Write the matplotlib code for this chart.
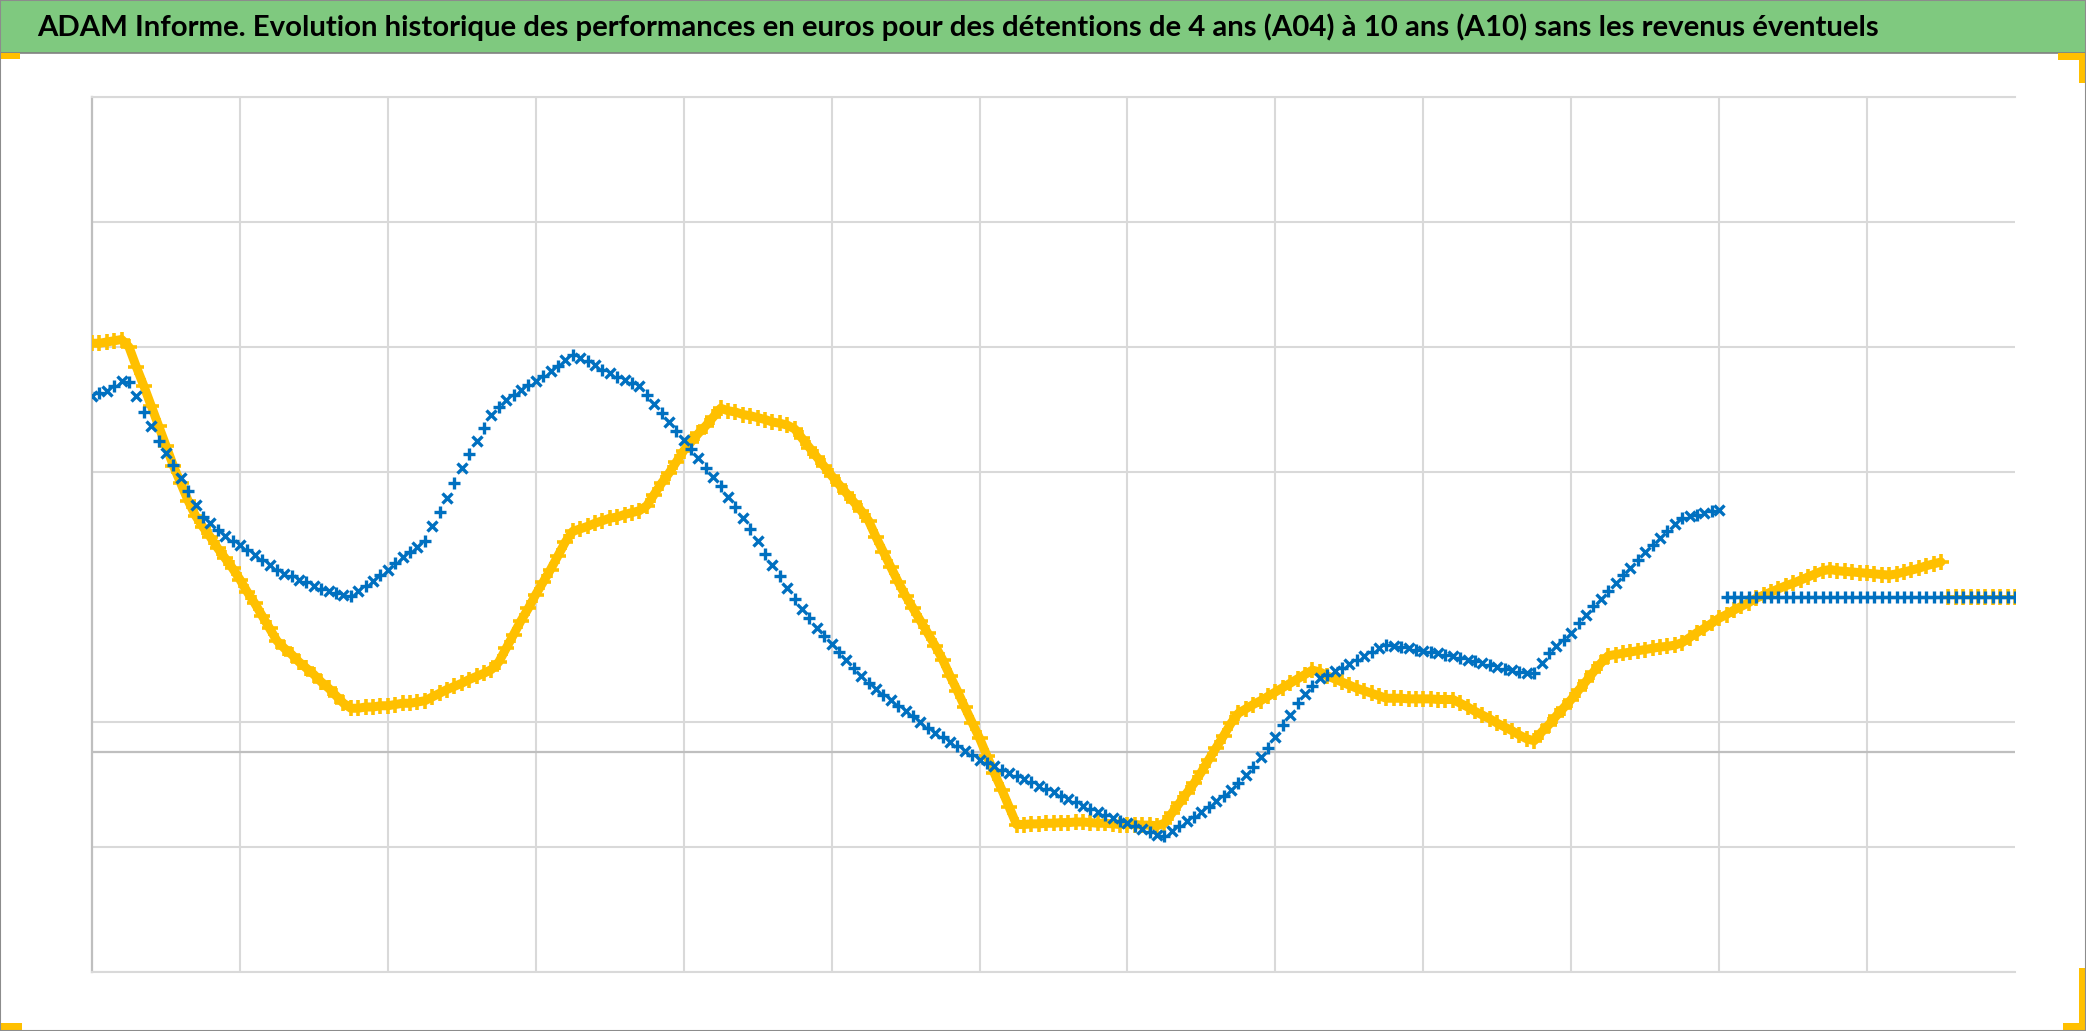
import matplotlib
matplotlib.use('Agg')
import matplotlib.pyplot as plt
import numpy as np
from matplotlib import font_manager
from matplotlib.patches import Rectangle

title = ("ADAM Informe. Evolution historique des performances en euros pour des "
         "détentions de 4 ans (A04) à 10 ans (A10) sans les revenus éventuels")

# one value every 0.05 grid step along the time axis
step = 0.05

# yellow series, start -> last known value
yellow = [
    30.3, 30.3, 30.4, 30.5, 30.6, 30.0, 28.4, 26.9, 25.3, 23.7,
    22.1, 20.5, 19.1, 17.7, 16.5, 15.6, 14.8, 13.9, 13.1, 12.3,
    11.4, 10.4, 9.5, 8.5, 7.5, 6.5, 5.9, 5.4, 4.8, 4.3,
    3.8, 3.2, 2.7, 2.1, 1.5, 1.1, 1.1, 1.2, 1.2, 1.3,
    1.3, 1.4, 1.5, 1.5, 1.6, 1.7, 2.0, 2.3, 2.6, 2.85,
    3.1, 3.4, 3.65, 3.9, 4.2, 4.8, 5.9, 7.0, 8.1, 9.1,
    10.2, 11.2, 12.2, 13.3, 14.4, 15.25, 15.45, 15.65, 15.9, 16.1,
    16.3, 16.4, 16.6, 16.75, 16.9, 17.3, 18.2, 19.1, 19.9, 20.8,
    21.7, 22.4, 23.1, 23.7, 24.4, 25.1, 24.9, 24.8, 24.6, 24.5,
    24.35, 24.2, 24.0, 23.9, 23.75, 23.45, 22.7, 21.95, 21.2, 20.45,
    19.7, 19.0, 18.3, 17.6, 16.9, 16.1, 14.8, 13.6, 12.4, 11.2,
    10.1, 9.1, 8.1, 7.1, 6.1, 5.0, 3.7, 2.5, 1.2, -0.05,
    -1.3, -2.7, -4.1, -5.4, -6.8, -8.2, -8.2, -8.15, -8.15, -8.1,
    -8.1, -8.05, -8.05, -8.0, -8.0, -8.05, -8.1, -8.1, -8.15, -8.2,
    -8.2, -8.2, -8.25, -8.25, -8.3, -8.1, -7.3, -6.5, -5.7, -4.9,
    -4.0, -3.0, -2.05, -1.1, -0.1, 0.7, 1.05, 1.4, 1.7, 2.05,
    2.4, 2.75, 3.1, 3.45, 3.8, 4.15, 4.0, 3.7, 3.45, 3.2,
    2.95, 2.7, 2.5, 2.3, 2.1, 1.9, 1.9, 1.9, 1.85, 1.85,
    1.85, 1.85, 1.8, 1.8, 1.8, 1.5, 1.2, 0.85, 0.55, 0.25,
    -0.1, -0.4, -0.7, -1.05, -1.35, -1.5, -0.8, -0.2, 0.5, 1.15,
    1.8, 2.55, 3.25, 4.0, 4.7, 5.3, 5.4, 5.5, 5.6, 5.7,
    5.8, 5.9, 6.0, 6.05, 6.15, 6.35, 6.75, 7.15, 7.5, 7.9,
    8.3, 8.6, 8.95, 9.25, 9.55, 9.9, 10.15, 10.4, 10.65, 10.9,
    11.1, 11.35, 11.6, 11.85, 12.1, 12.2, 12.1, 12.05, 12.0, 11.95,
    11.9, 11.85, 11.8, 11.75, 11.85, 12.0, 12.15, 12.3, 12.5, 12.65,
    12.8,
]
yellow_tail = [10.0] * 10

# blue series
blue = [
    26.1, 26.3, 26.5, 26.9, 27.3, 27.2, 26.05, 24.8, 23.7, 22.5,
    21.55, 20.6, 19.5, 18.5, 17.4, 16.4, 15.9, 15.35, 14.9, 14.5,
    14.15, 13.75, 13.35, 12.95, 12.55, 12.2, 11.85, 11.65, 11.4, 11.2,
    10.9, 10.65, 10.45, 10.3, 10.15, 10.1, 10.5, 10.9, 11.3, 11.75,
    12.2, 12.7, 13.2, 13.6, 14.0, 14.5, 15.7, 16.8, 17.9, 19.1,
    20.3, 21.45, 22.5, 23.55, 24.6, 25.2, 25.8, 26.2, 26.6, 26.95,
    27.3, 27.7, 28.1, 28.5, 29.0, 29.35, 29.1, 28.85, 28.55, 28.2,
    27.9, 27.6, 27.35, 27.1, 26.85, 26.2, 25.45, 24.7, 24.0, 23.3,
    22.6, 21.85, 21.1, 20.35, 19.6, 18.9, 18.0, 17.2, 16.35, 15.45,
    14.45, 13.45, 12.55, 11.65, 10.75, 9.85, 9.05, 8.3, 7.5, 6.85,
    6.25, 5.6, 5.0, 4.35, 3.7, 3.1, 2.65, 2.2, 1.75, 1.3,
    0.9, 0.45, 0.0, -0.45, -0.85, -1.2, -1.6, -1.95, -2.3, -2.65,
    -3.0, -3.25, -3.5, -3.8, -4.05, -4.3, -4.55, -4.8, -5.1, -5.35,
    -5.6, -5.9, -6.15, -6.4, -6.7, -6.95, -7.2, -7.4, -7.65, -7.9,
    -8.1, -8.35, -8.55, -8.8, -9.0, -9.15, -8.75, -8.35, -7.95, -7.6,
    -7.2, -6.8, -6.35, -5.9, -5.45, -4.85, -4.25, -3.6, -2.8, -2.05,
    -1.2, -0.2, 0.6, 1.5, 2.25, 2.85, 3.5, 3.8, 4.05, 4.35,
    4.65, 4.95, 5.3, 5.6, 5.95, 6.2, 6.1, 6.0, 5.9, 5.8,
    5.7, 5.6, 5.5, 5.35, 5.25, 5.15, 5.0, 4.85, 4.7, 4.55,
    4.4, 4.25, 4.15, 4.0, 3.9, 3.95, 4.7, 5.5, 6.1, 6.6,
    7.15, 7.9, 8.6, 9.25, 9.85, 10.5, 11.1, 11.75, 12.35, 13.0,
    13.6, 14.2, 14.75, 15.3, 15.85, 16.35, 16.5, 16.6, 16.7, 16.85,
    17.0,
]
blue_tail = [10.0] * 40

x_max = 13
grid_y = [-20, -10, 0, 20, 30, 40, 50]
axis_line_y = -2.4

YELLOW = '#FFC000'
BLUE = '#0070C0'
GREEN = '#7FC97F'

W, H = 2086, 1031
fig = plt.figure(figsize=(W / 100, H / 100), dpi=100)
fig.patch.set_facecolor('white')

def px(x0, y0, w, h):
    # pixel box (from top-left) -> figure fraction rectangle args
    return (x0 / W, 1 - (y0 + h) / H), w / W, h / H

ax = fig.add_axes([92 / W, 1 - 972 / H, (2015 - 92) / W, (972 - 97) / H])

xy = np.arange(len(yellow)) * step
xyt = xy[-1] + step * np.arange(1, len(yellow_tail) + 1)
xb = np.arange(len(blue)) * step
xbt = xb[-1] + step * np.arange(1, len(blue_tail) + 1)
blue = np.array(blue)

ax.plot(xy, yellow, color=YELLOW, lw=6.5, marker='+', ms=11, mew=2.6,
        solid_capstyle='round', solid_joinstyle='round', zorder=3)
ax.plot(xyt, yellow_tail, ls='none', color=YELLOW, marker='+', ms=11, mew=2.6, zorder=3)

ax.plot(xb[::2], blue[::2], ls='none', color=BLUE, marker='x', ms=7, mew=2.4, zorder=4)
ax.plot(xb[1::2], blue[1::2], ls='none', color=BLUE, marker='+', ms=8.5, mew=2.4, zorder=4)
ax.plot(xbt, blue_tail, ls='none', color=BLUE, marker='+', ms=9, mew=2.4, zorder=4)

ax.axhline(axis_line_y, color='#BFBFBF', lw=1.6, zorder=2)

ax.set_xlim(0, x_max)
ax.set_ylim(grid_y[0], grid_y[-1])
ax.set_xticks(range(1, x_max))
ax.set_yticks(grid_y)
ax.grid(True, color='#D9D9D9', lw=1.5)
ax.set_axisbelow(True)
ax.tick_params(length=0, labelleft=False, labelbottom=False)
for side in ['top', 'bottom']:
    ax.spines[side].set_color('#D9D9D9')
    ax.spines[side].set_linewidth(1.5)
ax.spines['right'].set_visible(False)
ax.spines['left'].set_color('#BFBFBF')
ax.spines['left'].set_linewidth(1.6)

# title banner
xy0, w0, h0 = px(0, 0, W, 53)
fig.patches.append(Rectangle(xy0, w0, h0, transform=fig.transFigure,
                             facecolor=GREEN, edgecolor='#808080', lw=1.2, zorder=1))

names = {f.name for f in font_manager.fontManager.ttflist}
fam = 'Lato'
for cand in ['Liberation Sans Narrow', 'DejaVu Sans Condensed']:
    if cand in names:
        fam = cand
        break
t = fig.text(37 / W, 1 - 27 / H, title, ha='left', va='center', fontsize=20,
             fontweight='bold', family=fam, color='black', zorder=5)
fig.canvas.draw()
bb = t.get_window_extent()
t.set_fontsize(20 * (1887 - 37) / bb.width)

# yellow corner marks
for box in [(0, 53, 20, 6), (2058, 53, 28, 7), (2079, 53, 7, 30),
            (0, 1023, 22, 7), (2063, 1023, 23, 7), (2079, 968, 7, 62)]:
    xy0, w0, h0 = px(*box)
    fig.patches.append(Rectangle(xy0, w0, h0, transform=fig.transFigure,
                                 facecolor=YELLOW, edgecolor='none', zorder=2))

# outer frame
fig.patches.append(Rectangle((0, 0), 1, 1, transform=fig.transFigure, fill=False,
                             edgecolor='#8C8C8C', lw=1.5, zorder=6))

fig.savefig('out.png', dpi=100)
